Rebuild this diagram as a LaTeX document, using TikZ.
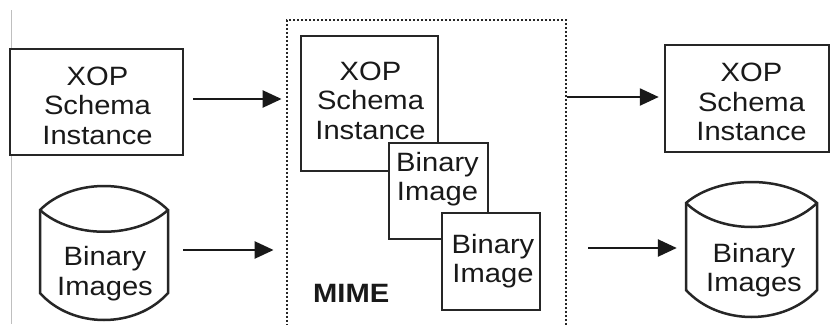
\documentclass[tikz,border=0pt]{standalone}
\usepackage{fontspec}
\newfontfamily\arialf[FakeStretch=1.1]{Liberation Sans}
\usetikzlibrary{arrows.meta,calc}
\begin{document}
\begin{tikzpicture}[x=1pt,y=-1pt,
  lw/.style={line width=2.5pt},
  boxnode/.style={draw=black!85, lw, fill=white, inner sep=0pt, rectangle},
  txt/.style={inner sep=0pt, align=center, text=black!90, font=\arialf\fontsize{26.5}{29.5}\selectfont},
  arr/.style={lw, draw=black!90, -{Triangle[length=19pt,width=17pt]}},
  ghost/.style={inner sep=0pt, rectangle}]
\useasboundingbox (0,0) rectangle (830,324);
\fill[white] (0,0) rectangle (830,324);
% faint frame line at left
\draw[gray!50, line width=0.8pt] (11,10) -- (11,324);

% left XOP box
\node[boxnode, minimum width=173pt, minimum height=106pt] (L) at (96.5,102) {};
\node[txt] (Lt) at (97.5,105.5) {XOP\\Schema\\Instance};

% left cylinder
\draw[lw, black!85] (40,210) .. controls (72,178) and (136,178) .. (168,210) -- (168,293)
  .. controls (136,329) and (72,329) .. (40,293) -- cycle;
\draw[lw, black!85] (40,210) .. controls (72,239) and (136,239) .. (168,210);
\node[ghost, minimum width=128pt, minimum height=134pt] (cL) at (104,253) {};
\node[txt] (cLt) at (105,273.8) {Binary\\Images};

% MIME dotted container
\node[draw=black!85, line width=2.8pt, dash pattern=on 1.8pt off 2.2pt, inner sep=0pt,
  minimum width=279pt, minimum height=310pt] (mime) at (426.5,175) {};
\node[inner sep=0pt, text=black!90, font=\arialf\bfseries\fontsize{26.5}{29.5}\selectfont, anchor=base west] (mimet) at (313,302) {MIME};

% inner boxes
\node[boxnode, minimum width=137pt, minimum height=135pt] (m1) at (369.5,103.5) {};
\node[txt] (m1t) at (370.5,100.8) {XOP\\Schema\\Instance};
\node[boxnode, minimum width=99pt, minimum height=96pt] (m2) at (438.5,191) {};
\node[txt] (m2t) at (437.5,179.3) {Binary\\Image};
\node[boxnode, minimum width=98pt, minimum height=97pt] (m3) at (491,261.5) {};
\node[txt] (m3t) at (493,261.3) {Binary\\Image};

% right XOP box
\node[boxnode, minimum width=164pt, minimum height=107pt] (R) at (747,98.5) {};
\node[txt] (Rt) at (751.5,102) {XOP\\Schema\\Instance};

% right cylinder
\draw[lw, black!85] (686,203) .. controls (719,175) and (784,175) .. (817,203) -- (817,290)
  .. controls (784,326) and (719,326) .. (686,290) -- cycle;
\draw[lw, black!85] (686,203) .. controls (719,235) and (784,235) .. (817,203);
\node[ghost, minimum width=131pt, minimum height=135pt] (cR) at (751.5,249.5) {};
\node[txt] (cRt) at (754,270.3) {Binary\\Images};

% arrows
\draw[arr] ($(L.east)+(9,-3)$) -- ($(L.east -| mime.west)+(-4,-3)$);
\draw[arr] ($(cL.east)+(15,-3)$) -- ($(cL.east -| mime.west)+(-12,-3)$);
\draw[arr] ($(R.west -| mime.east)+(0,-1.5)$) -- ($(R.west)+(-5,-1.5)$);
\draw[arr] ($(cR.west -| mime.east)+(21,-1.5)$) -- ($(cR.west)+(-9,-1.5)$);
\end{tikzpicture}
\end{document}
